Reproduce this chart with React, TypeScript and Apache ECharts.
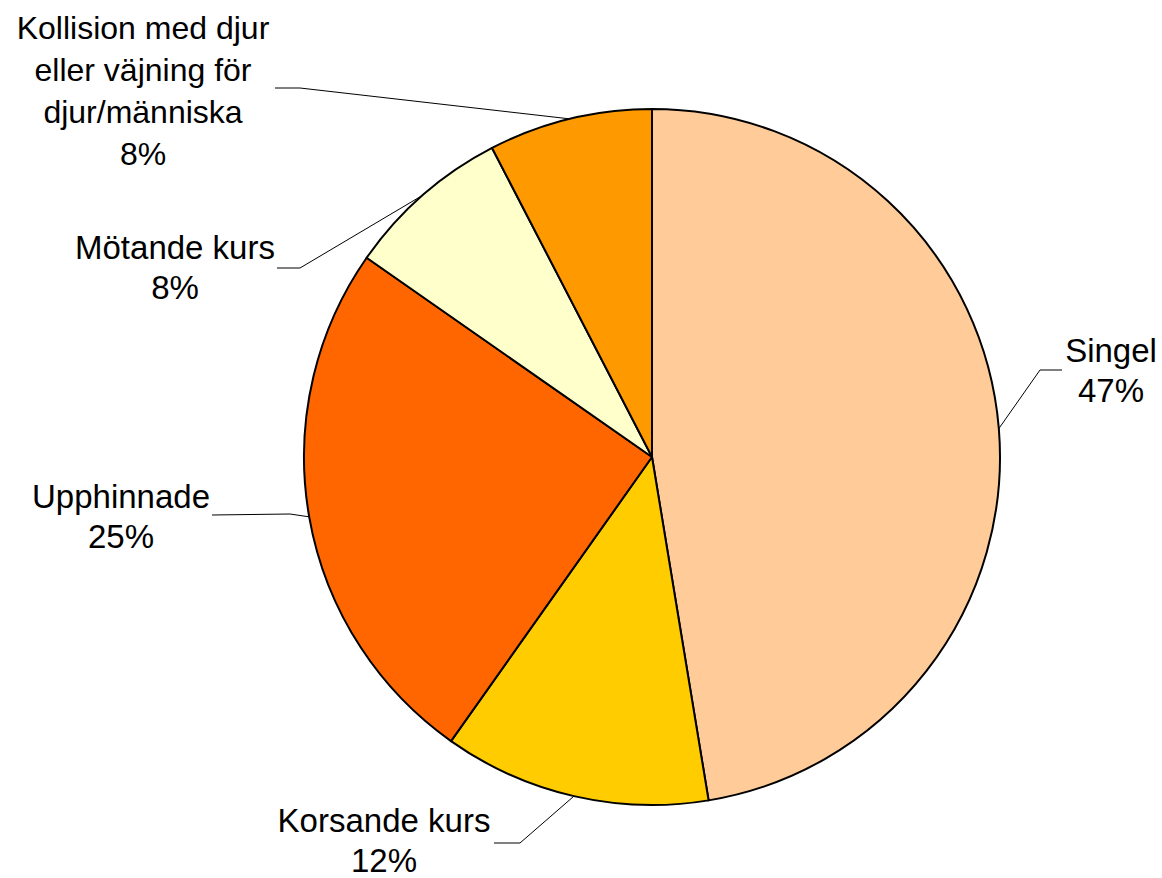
import { useEffect, useRef } from "react";
import * as echarts from "echarts";

const categories = [
  "Singel",
  "Korsande kurs",
  "Upphinnade",
  "Mötande kurs",
  "Kollision med djur\neller väjning för\ndjur/människa",
];
const values = [47.4, 12.4, 24.9, 7.7, 7.6];
const colors = ["#FFCC99", "#FFCC00", "#FF6600", "#FFFFCC", "#FF9900"];

// label placement (text centre, elbow of leader line, end of leader line)
const labelPlacement = [
  { x: 1111, y: 370, elbow: [1040, 370], end: [1062, 370] },
  { x: 384, y: 840, elbow: [520, 843], end: [494, 843] },
  { x: 121, y: 516, elbow: [290, 514], end: [212, 515] },
  { x: 175, y: 267, elbow: [300, 268], end: [277, 268] },
  { x: 143, y: 91, elbow: [300, 88], end: [275, 88] },
];

export default function App() {
  const ref = useRef<HTMLDivElement>(null);
  useEffect(() => {
    if (!ref.current) return;
    const chart = echarts.init(ref.current, null, { renderer: "svg" });
    chart.setOption({
      animation: false,
      backgroundColor: "#ffffff",
      series: [
        {
          type: "pie",
          center: [652, 457],
          radius: 348,
          startAngle: 90,
          clockwise: true,
          avoidLabelOverlap: false,
          percentPrecision: 0,
          itemStyle: { borderColor: "#000000", borderWidth: 2 },
          label: {
            show: true,
            position: "outside",
            formatter: "{b}\n{d}%",
            fontFamily: "Liberation Sans, Arial, sans-serif",
            fontSize: 33,
            lineHeight: 40,
            color: "#000000",
            align: "center",
          },
          labelLine: {
            show: true,
            lineStyle: { color: "#000000", width: 1 },
          },
          labelLayout: (params: any) => {
            const p = labelPlacement[params.dataIndex];
            const start = params.labelLinePoints
              ? params.labelLinePoints[0]
              : p.elbow;
            return {
              x: p.x,
              y: p.y,
              align: "center",
              verticalAlign: "middle",
              labelLinePoints: [start, p.elbow, p.end],
            };
          },
          data: categories.map((name, i) => ({
            name,
            value: values[i],
            itemStyle: { color: colors[i] },
            label: i === 4 ? { fontSize: 32, lineHeight: 42 } : undefined,
          })),
        },
      ],
    });
    return () => chart.dispose();
  }, []);
  return (
    <div
      ref={ref}
      style={{ position: "fixed", left: 0, top: 0, width: 1162, height: 878 }}
    />
  );
}
